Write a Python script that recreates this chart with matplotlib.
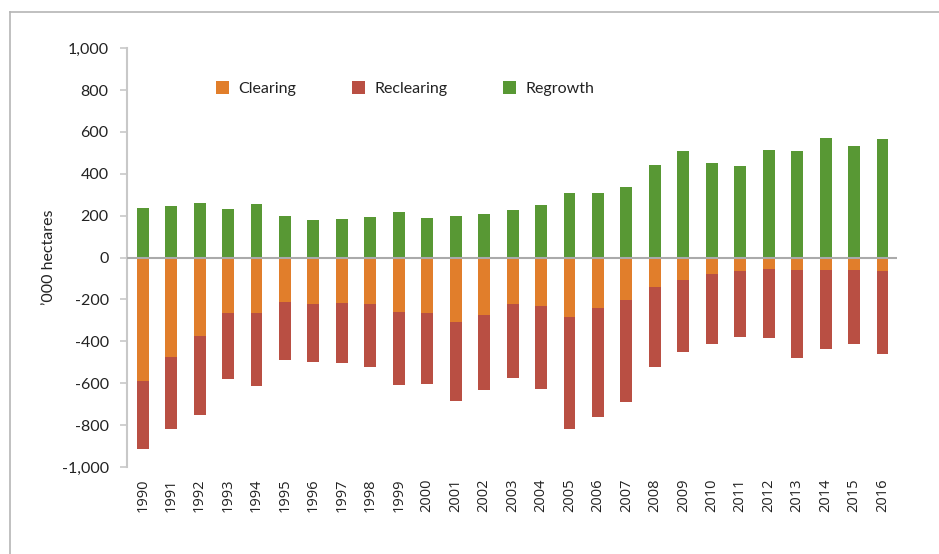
import numpy as np
import matplotlib.pyplot as plt
from matplotlib.lines import Line2D
from matplotlib.ticker import FuncFormatter

years = list(range(1990, 2017))

# '000 hectares per year (clearing and reclearing as losses)
clearing = [-589, -476, -375, -266, -266, -213, -223, -218, -223, -261,
            -266, -309, -275, -223, -232, -285, -242, -204, -142, -108,
            -80, -65, -56, -60, -60, -60, -65]
reclearing = [-324, -342, -376, -313, -347, -275, -275, -285, -299, -347,
              -337, -375, -357, -351, -395, -534, -520, -486, -381, -344,
              -334, -315, -329, -420, -378, -354, -396]
regrowth = [235, 245, 259, 231, 255, 197, 178, 183, 193, 216,
            188, 197, 207, 226, 250, 307, 307, 336, 441, 508,
            450, 436, 512, 508, 570, 531, 565]

c_clear = '#E17E2B'
c_reclear = '#B94F43'
c_regrow = '#589834'

plt.rcParams['font.family'] = ['Lato', 'DejaVu Sans']

fig = plt.figure(figsize=(9.39, 5.54), dpi=100)
ax = fig.add_axes([0.135, 0.157, 0.82, 0.756])

x = np.arange(len(years))
w = 0.42
ax.bar(x, clearing, w, color=c_clear, label='Clearing', zorder=2)
ax.bar(x, reclearing, w, bottom=clearing, color=c_reclear,
       label='Reclearing', zorder=2)
ax.bar(x, regrowth, w, color=c_regrow, label='Regrowth', zorder=2)

ax.axhline(0, color='#aaaaaa', lw=1.5, zorder=3)

ax.set_xlim(-0.56, len(years) - 0.5)
ax.set_ylim(-1000, 1000)
ax.set_yticks(range(-1000, 1001, 200))
ax.yaxis.set_major_formatter(FuncFormatter(lambda v, p: f'{int(v):,}'))
ax.set_xticks(x)
ax.set_xticklabels(years, rotation=90, fontsize=10.5, color='#222222',
                   family=['Open Sans', 'DejaVu Sans'])
ax.tick_params(axis='x', length=0, pad=8)
ax.tick_params(axis='y', length=5, width=1.2, color='#c8c8c8',
               labelsize=11.5, labelcolor='#222222', pad=8)

for s in ['top', 'right', 'bottom']:
    ax.spines[s].set_visible(False)
ax.spines['left'].set_color('#c8c8c8')
ax.spines['left'].set_linewidth(1.5)

ax.set_ylabel('\u2019000 hectares', fontsize=11.5, color='#222222', labelpad=4)

ax.legend(loc='upper left', bbox_to_anchor=(0.097, 0.955), ncol=3,
          frameon=False, fontsize=11.5, handlelength=0.8, handleheight=0.8,
          handletextpad=0.6, columnspacing=3.5, labelcolor='#222222')

# outer frame around the chart area
fig.add_artist(Line2D([10 / 939, 10 / 939], [0, 1 - 12 / 554],
                      color='#b5b5b5', lw=1.2))
fig.add_artist(Line2D([10 / 939, 1], [1 - 12 / 554, 1 - 12 / 554],
                      color='#b5b5b5', lw=1.2))

fig.savefig('out.png', dpi=100)
